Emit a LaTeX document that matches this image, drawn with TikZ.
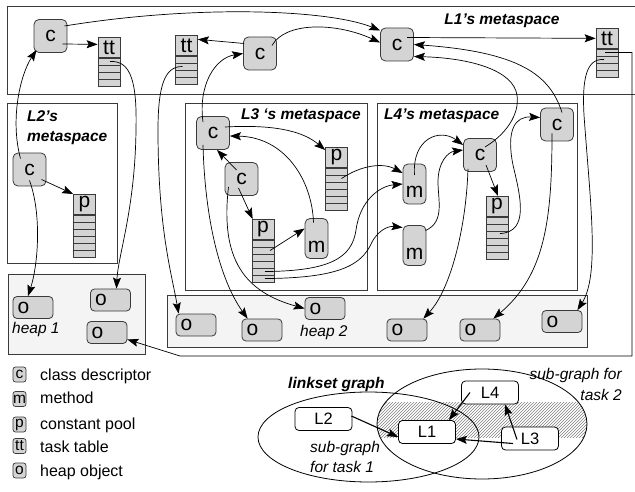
\documentclass[tikz,border=0pt]{standalone}
\usepackage{fontspec}
\setmainfont{Liberation Sans}
\usetikzlibrary{arrows.meta,calc,patterns}
\definecolor{nodefill}{HTML}{D4D4D4}
\definecolor{edgegray}{HTML}{3A3A3A}
\definecolor{heapfill}{HTML}{F4F4F4}
\tikzset{
  frame/.style={draw=edgegray, line width=0.9pt},
  cbox/.style={draw=edgegray, fill=nodefill, rounded corners=5pt, line width=0.8pt,
    minimum width=33pt, minimum height=33pt, inner sep=0pt, font=\fontsize{21}{21}\selectfont},
  mbox/.style={cbox, minimum width=23pt, minimum height=40pt, text height=34pt, text depth=6pt},
  obox/.style={draw=edgegray, fill=nodefill, rounded corners=4pt, line width=0.8pt,
    minimum height=22pt, text width=31pt, inner xsep=4.5pt, inner ysep=0pt, align=left,
    font=\fontsize{21}{21}\selectfont},
  hdr/.style={draw=edgegray, fill=nodefill, line width=0.7pt, minimum width=22pt,
    minimum height=20pt, inner sep=0pt, font=\fontsize{21}{21}\selectfont},
  tabrow/.style={draw=edgegray, fill=nodefill, line width=0.7pt, minimum width=22pt,
    minimum height=7pt, inner sep=0pt},
  title/.style={font=\fontsize{15.5}{18}\selectfont\bfseries\itshape, inner sep=0pt},
  note/.style={font=\fontsize{15.5}{18}\selectfont\itshape, inner sep=0pt},
  legtext/.style={font=\fontsize{16}{18}\selectfont, inner sep=0pt},
  lbox/.style={draw=edgegray, fill=nodefill, rounded corners=2.5pt, line width=0.7pt,
    minimum width=13pt, minimum height=15pt, inner sep=0pt, font=\fontsize{15.5}{15.5}\selectfont},
  lnode/.style={draw=black, fill=white, rounded corners=4pt, line width=0.8pt,
    minimum width=57pt, minimum height=23pt, inner sep=0pt, font=\fontsize{16.5}{16.5}\selectfont},
  arr/.style={-{Stealth[length=11pt,width=8pt,inset=2pt]}, line width=0.7pt},
  larr/.style={-{Stealth[length=11pt,width=8pt,inset=2pt]}, line width=1.1pt},
}
% table block: name, centre x, top y, label, number of rows
\newcommand\tblock[5]{%
  \node[hdr, anchor=north] (#1) at (#2,#3) {#4};
  \foreach \k in {1,...,#5}{
    \node[tabrow, anchor=north] (#1-\k) at ($(#1.south)+(0,{(\k-1)*7})$) {};
  }
}
\begin{document}
\begin{tikzpicture}[x=1pt,y=-1pt]
\useasboundingbox (0,0) rectangle (635,492);

% metaspaces and heaps
\draw[frame] (7,6) rectangle (645,94);
\draw[frame] (7,103) rectangle (117,263);
\draw[frame] (185,103) rectangle (367,290);
\draw[frame] (377,103) rectangle (577,290);
\draw[frame, fill=heapfill] (8,274) rectangle (145,354);
\draw[frame, fill=heapfill] (167,295) rectangle (587,347);

\node[title, anchor=base] at (502,25) {L1's metaspace};
\node[title, anchor=base west] at (27,122) {L2's};
\node[title, anchor=base west] at (27,142) {metaspace};
\node[title, anchor=base east] at (361,120) {L3 ‘s metaspace};
\node[title, anchor=base west] at (384,120) {L4's metaspace};
\node[note, anchor=base west] at (12,333) {heap 1};
\node[note, anchor=base west] at (300,336) {heap 2};

% L1
\node[cbox] (c1) at (50.5,36) {c};
\node[cbox] (c2) at (260,53.5) {c};
\node[cbox] (c3) at (397,44.5) {c};
\tblock{tt1}{109}{37}{tt}{4}
\tblock{tt2}{186.5}{35}{tt}{4}
\tblock{tt3}{607}{28}{tt}{4}

% L2
\node[cbox] (cL2) at (29.5,169.5) {c};
\tblock{pL2}{84.5}{194}{p}{6}

% L3
\node[cbox] (c3a) at (213,133) {c};
\node[cbox] (c3b) at (241.5,179) {c};
\node[mbox] (m3) at (316.5,238.5) {m};
\tblock{p3a}{336.5}{147}{p}{6}
\tblock{p3b}{263}{219}{p}{6}

% L4
\node[cbox] (c4a) at (480,155) {c};
\node[cbox] (c4b) at (557,124.5) {c};
\node[mbox] (m4a) at (414.5,184) {m};
\node[mbox] (m4b) at (414.5,245.5) {m};
\tblock{p4}{497}{196}{p}{6}

% heap objects
\node[obox] (o1a) at (33,307.5) {o};
\node[obox] (o1b) at (110.5,300) {o};
\node[obox] (o1c) at (107,332.5) {o};
\node[obox] (o2a) at (196,325) {o};
\node[obox] (o2b) at (262,330) {o};
\node[obox] (o2c) at (325,308.5) {o};
\node[obox] (o2d) at (407,330) {o};
\node[obox] (o2e) at (480,330) {o};
\node[obox] (o2f) at (562,321.5) {o};

% references inside L1
\draw[arr] ($(c1)+(12,8)$) -- ($(tt1.west)+(0,-3)$);
\draw[arr] ($(c1)+(14,-10)$) .. controls (200,4) and (330,10) .. ($(c3.west)+(0,-14)$);
\draw[arr] ($(c2)+(12,-8)$) .. controls (285,22) and (335,22) .. ($(c3.west)+(0,-2)$);
\draw[arr] ($(c2.west)+(1,-10)$) -- ($(tt2.east)+(0,-6)$);
\draw[arr] ($(c3)+(10,-7)$) -- (tt3.west);

% L2
\draw[arr] ($(cL2)+(-9,-11)$) .. controls (10,120) and (20,75) .. ($(c1)+(-14,14)$);
\draw[arr] ($(cL2)+(12,10)$) -- (pL2.north west);
\draw[arr] ($(cL2)+(0,11)$) .. controls (42,215) and (38,265) .. ($(o1a.north)+(-5,0)$);

% task tables
\draw[arr] ($(tt1-1)+(1,0)$) .. controls (132,60) and (137,85) .. (136,130)
  .. controls (135,210) and (118,255) .. ($(o1b.north)+(6,0)$);
\draw[arr] ($(tt2-2)+(-4,0)$) .. controls (165,66) and (158,85) .. (158,130)
  .. controls (158,230) and (172,275) .. ($(o2a.north west)+(3,0)$);
\draw[arr] ($(tt3-1)+(-2,0)$) -- ++(27,0) |- (180,356) -- ($(o1c.east)+(0,7)$);
\draw[arr] ($(tt3-2)+(-3,0)$) .. controls (586,58) and (582,80) .. (584,115)
  .. controls (590,200) and (600,275) .. ($(o2f.north east)+(-5,0)$);

% L3
\draw[arr] ($(c3a)+(-10,-11)$) .. controls (198,85) and (215,58) .. (c2.west);
\draw[arr] ($(c3a)+(12,-6)$) .. controls (280,124) and (305,133) .. ($(p3a.north west)+(0,3)$);
\draw[arr] ($(c3b)+(-5,-9)$) -- ($(c3a.south)+(4,0)$);
\draw[arr] ($(m3)+(-3,-16)$) .. controls (312,180) and (285,137) .. ($(c3a.east)+(0,3)$);
\draw[arr] ($(c3b)+(-3,9)$) -- ($(p3b.north west)+(1,0)$);
\draw[arr] ($(p3b-2)+(7,0)$) -- ($(m3.west)+(0,-10)$);
\draw[arr] ($(p3a-2)+(5,0)$) .. controls (360,166) and (382,162) .. ($(m4a.west)+(0,-11)$);
\draw[arr] ($(p3b-5)+(2,0)$) .. controls (330,271) and (352,258) .. (356,230)
  .. controls (360,200) and (380,186) .. (m4a.west);
\draw[arr] ($(p3b-6)+(2,0)$) .. controls (340,278) and (362,265) .. (372,242)
  .. controls (380,228) and (390,226) .. ($(m4b.west)+(0,-18)$);
\draw[arr] ($(c3a)+(-10,12)$) .. controls (205,220) and (220,280) .. ($(o2b.north west)+(6,0)$);
\draw[arr] ($(c3b)+(-13,8)$) .. controls (220,260) and (245,292) .. (o2c.west);

% L4
\draw[arr] ($(m4a)+(0,-9)$) .. controls (412,138) and (440,128) .. ($(c4a.west)+(0,-10)$);
\draw[arr] ($(m4b)+(11,-15)$) .. controls (445,222) and (438,200) .. (438,182)
  .. controls (438,162) and (448,152) .. ($(c4a.west)+(0,-5)$);
\draw[arr] ($(c4a)+(6,10)$) -- ($(p4.north)+(1,0)$);
\draw[arr] ($(p4-3)+(3,-1)$) .. controls (530,232) and (520,195) .. (513,165)
  .. controls (506,130) and (515,116) .. ($(c4b.west)+(0,-7)$);
\draw[arr] ($(c4b)+(5,-12)$) .. controls (550,75) and (520,52) .. (c3.east);
\draw[arr] ($(c4a)+(5,-8)$) .. controls (505,135) and (520,115) .. (517,95)
  .. controls (513,70) and (470,58) .. ($(c3.east)+(0,12)$);
\draw[arr] ($(c4a)+(-12,14)$) .. controls (466,230) and (450,290) .. ($(o2d.north east)+(-4,0)$);
\draw[arr] ($(c4b)+(-5,9)$) .. controls (552,220) and (545,275) .. ($(o2e.north east)+(-7,0)$);

% legend
\node[lbox] (kc) at (19.5,374.5) {c};
\node[legtext, anchor=base west] at (40,380) {class descriptor};
\node[lbox] (km) at (19.5,399) {m};
\node[legtext, anchor=base west] at (40,403) {method};
\node[lbox] (kp) at (19.5,424.5) {p};
\node[legtext, anchor=base west] at (40,429) {constant pool};
\node[lbox] (kt) at (19.5,446) {tt};
\node[legtext, anchor=base west] at (40,452) {task table};
\node[lbox] (ko) at (19.5,470.5) {o};
\node[legtext, anchor=base west] at (40,476) {heap object};

% linkset graph
\begin{scope}
  \clip (482,424) ellipse [x radius=105, y radius=55];
  \fill[pattern=north east lines, pattern color=gray] (370,402) rectangle (600,437);
\end{scope}
\draw[line width=0.8pt] (368.5,437) ellipse [x radius=110.5, y radius=45];
\draw[line width=0.8pt] (482,424) ellipse [x radius=105, y radius=55];
\node[title, anchor=base west] at (288,388) {linkset graph};
\node[note, anchor=base east] at (622,379) {sub-graph for};
\node[note, anchor=base east] at (622,400) {task 2};
\node[note, anchor=base west] at (310,452) {sub-graph};
\node[note, anchor=base west] at (310,472) {for task 1};
\node[lnode] (L2) at (323.5,419) {L2};
\node[lnode] (L1) at (427,432) {L1};
\node[lnode] (L4) at (490,392.5) {L4};
\node[lnode] (L3) at (530,438.5) {L3};
\draw[larr] ($(L2.east)+(-1,-3)$) -- ($(L1.west)+(0,5)$);
\draw[larr] ($(L4)+(-20,0)$) -- ($(L1.north east)+(-7,0)$);
\draw[larr] ($(L3)+(-17,5)$) -- ($(L1.east)+(0,7)$);
\draw[larr] ($(L3)+(-13,1)$) -- ($(L4.south)+(15,0)$);
\end{tikzpicture}
\end{document}
